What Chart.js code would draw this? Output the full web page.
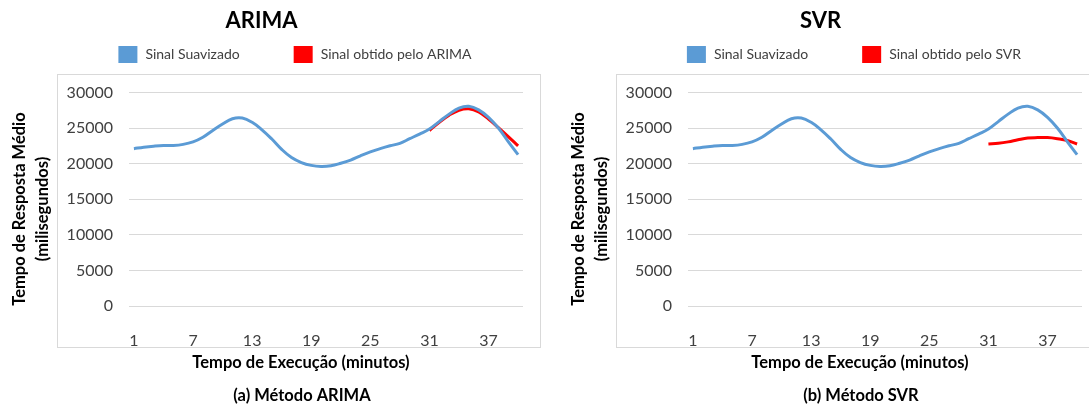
<!DOCTYPE html>
<html>
<head>
<meta charset="utf-8">
<script src="https://cdn.jsdelivr.net/npm/chart.js@4.4.0/dist/chart.umd.min.js"></script>
<style>
  body { margin: 0; background: #fff; overflow: hidden; width: 1089px; height: 405px; position: relative; }
  canvas { position: absolute; top: 0; }
  #chartA { left: 0; }
  #chartB { left: 559px; }
</style>
</head>
<body>
<canvas id="chartA" width="600" height="405"></canvas>
<canvas id="chartB" width="600" height="405"></canvas>
<script>
// minutos 1..40
const minutos = Array.from({ length: 40 }, (_, i) => String(i + 1));

// sinal suavizado (ms), igual nos dois gráficos
const sinalSuavizado = [
  22100, 22300, 22450, 22550, 22550, 22700, 23050, 23700, 24650, 25550,
  26300, 26400, 25800, 24750, 23450, 22000, 20850, 20150, 19750, 19600,
  19700, 20050, 20500, 21100, 21650, 22100, 22500, 22850, 23500, 24150,
  24850, 25900, 26950, 27800, 28050, 27550, 26500, 25000, 23100, 21250
];

// previsões a partir do minuto 31
const previsaoArima = [
  null, null, null, null, null, null, null, null, null, null,
  null, null, null, null, null, null, null, null, null, null,
  null, null, null, null, null, null, null, null, null, null,
  24650, 25800, 26800, 27500, 27700, 27250, 26250, 25050, 23800, 22500
];
const previsaoSvr = [
  null, null, null, null, null, null, null, null, null, null,
  null, null, null, null, null, null, null, null, null, null,
  null, null, null, null, null, null, null, null, null, null,
  22750, 22850, 23050, 23350, 23600, 23650, 23650, 23500, 23250, 22750
];

const yTicks = [0, 5000, 10000, 15000, 20000, 25000, 30000];

const BLUE = "#5b9bd5";
const RED = "#ff0000";
const TXT = "#404040";
const FONT = "Lato, 'Open Sans', sans-serif";

// moldura, legenda, títulos dos eixos e legenda da figura
const extras = {
  id: "extras",
  beforeDraw(chart, args, opts) {
    const ctx = chart.ctx;
    ctx.save();
    ctx.strokeStyle = "#d9d9d9";
    ctx.lineWidth = 1;
    ctx.strokeRect(57.5, 74.5, 483, 273);
    ctx.restore();
  },
  afterDraw(chart, args, opts) {
    const ctx = chart.ctx;
    ctx.save();
    // legenda
    ctx.font = "14px " + FONT;
    ctx.textBaseline = "middle";
    ctx.textAlign = "left";
    const items = [["Sinal Suavizado", BLUE], [opts.redLabel, RED]];
    const widths = items.map(it => 19 + 8 + ctx.measureText(it[0]).width);
    const total = widths[0] + 54 + widths[1];
    let x = 295 - total / 2;
    items.forEach((it, i) => {
      ctx.fillStyle = it[1];
      ctx.fillRect(x, 46, 19, 17);
      ctx.fillStyle = TXT;
      ctx.fillText(it[0], x + 27, 54.5);
      x += widths[i] + 54;
    });
    // título eixo x e legenda da figura
    ctx.fillStyle = "#000";
    ctx.textAlign = "center";
    ctx.font = "bold 16.5px " + FONT;
    ctx.fillText("Tempo de Execução (minutos)", 301, 363);
    ctx.fillText(opts.caption, 302, 396);
    // título eixo y (rodado)
    ctx.translate(0, 209);
    ctx.rotate(-Math.PI / 2);
    ctx.fillText("Tempo de Resposta Médio", 0, 20);
    ctx.fillText("(milisegundos)", 0, 43);
    ctx.restore();
  }
};

function makeChart(id, titulo, redLabel, redData, caption) {
  return new Chart(document.getElementById(id).getContext("2d"), {
    type: "line",
    data: {
      labels: minutos,
      datasets: [
        {
          label: "Sinal Suavizado",
          data: sinalSuavizado,
          borderColor: BLUE,
          borderWidth: 3,
          pointRadius: 0,
          tension: 0.4
        },
        {
          label: redLabel,
          data: redData,
          borderColor: RED,
          borderWidth: 3,
          pointRadius: 0,
          tension: 0.4
        }
      ]
    },
    options: {
      responsive: false,
      animation: false,
      devicePixelRatio: 1,
      layout: { padding: { left: 0, right: 77, top: 0, bottom: 0 } },
      plugins: {
        legend: { display: false },
        tooltip: { enabled: false },
        title: {
          display: true,
          text: titulo,
          color: "#000",
          font: { family: FONT, size: 22, weight: "bold", lineHeight: 1.2 },
          padding: { top: 8, bottom: 58 }
        },
        extras: { redLabel: redLabel, caption: caption }
      },
      scales: {
        x: {
          offset: true,
          grid: { display: false },
          border: { display: false },
          ticks: {
            autoSkip: false,
            maxRotation: 0,
            padding: 17,
            color: TXT,
            font: { family: FONT, size: 16 },
            callback: (v, i) => (i % 6 === 0 ? minutos[i] : "")
          },
          afterFit: s => { s.height = 99; }
        },
        y: {
          min: 0,
          max: 30000,
          afterBuildTicks: s => { s.ticks = yTicks.map(v => ({ value: v })); },
          grid: { color: "#d9d9d9", lineWidth: 1, drawTicks: false },
          border: { display: false },
          ticks: {
            padding: 16,
            color: TXT,
            font: { family: FONT, size: 16 },
            callback: v => String(v)
          },
          afterFit: s => { s.width = 129; }
        }
      }
    },
    plugins: [extras]
  });
}

makeChart("chartA", "ARIMA", "Sinal obtido pelo ARIMA", previsaoArima, "(a) Método ARIMA");
makeChart("chartB", "SVR", "Sinal obtido pelo SVR", previsaoSvr, "(b) Método SVR");
</script>
</body>
</html>
